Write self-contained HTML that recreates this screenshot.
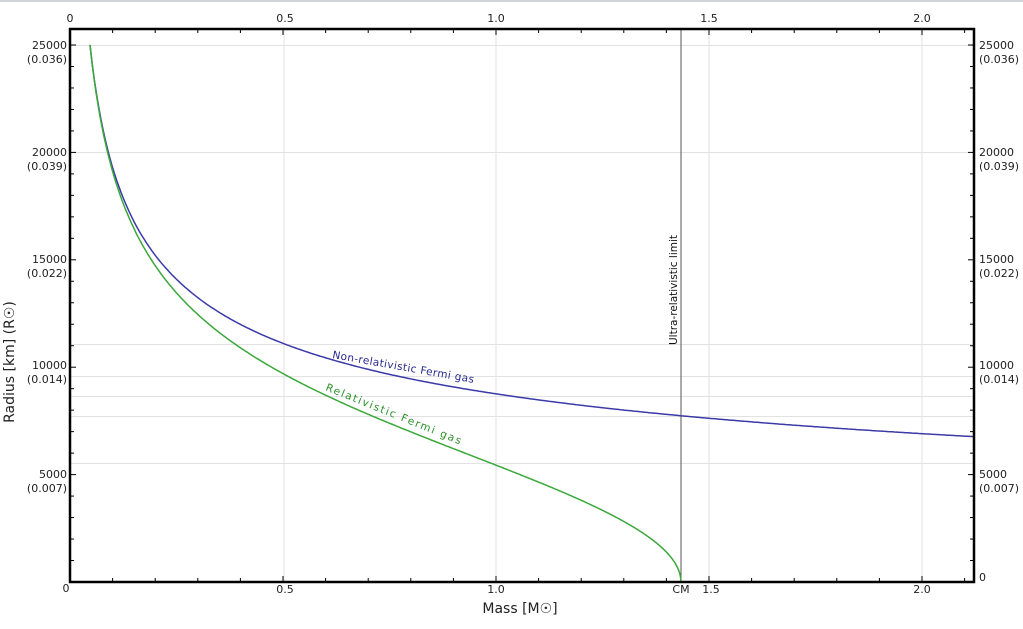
<!DOCTYPE html>
<html><head><style>
html,body{margin:0;padding:0;background:#fff;}
svg{display:block;font-family:"DejaVu Sans","Liberation Sans",sans-serif;}
</style></head><body>
<svg id="s" width="1023" height="629" xmlns="http://www.w3.org/2000/svg">
<rect x="0" y="0" width="1023" height="2" fill="#d0d4d8"/>
<g stroke="#e2e2e2" stroke-width="1">
<line x1="284" y1="29" x2="284" y2="582"/>
<line x1="496" y1="29" x2="496" y2="582"/>
<line x1="709" y1="29" x2="709" y2="582"/>
<line x1="922" y1="29" x2="922" y2="582"/>
<line x1="70" y1="45.5" x2="974" y2="45.5"/>
<line x1="70" y1="152.5" x2="974" y2="152.5"/>
<line x1="70" y1="344.5" x2="974" y2="344.5"/>
<line x1="70" y1="376.5" x2="974" y2="376.5"/>
<line x1="70" y1="396.5" x2="974" y2="396.5"/>
<line x1="70" y1="416.5" x2="974" y2="416.5"/>
<line x1="70" y1="463.5" x2="974" y2="463.5"/>
</g>
<line x1="681" y1="29" x2="681" y2="582" stroke="#555" stroke-width="1"/>
<path id="blue" fill="none" stroke="#3a3aa8" stroke-width="1.5"/>
<path id="green" fill="none" stroke="#3aa83a" stroke-width="1.5"/>
<g id="ticks" stroke="#000" stroke-width="1"></g>
<rect x="70" y="29" width="904" height="553" fill="none" stroke="#000" stroke-width="2.5"/>
<g font-size="11" fill="#222" text-anchor="middle">
<text x="70" y="22">0</text><text x="285" y="22">0.5</text><text x="496" y="22">1.0</text><text x="709" y="22">1.5</text><text x="922" y="22">2.0</text>
<text x="66" y="592">0</text><text x="285" y="593">0.5</text><text x="496" y="593">1.0</text><text x="711" y="593">1.5</text><text x="922" y="593">2.0</text><text x="681" y="593">CM</text>
</g>
<g font-size="11" fill="#222" text-anchor="end">
<text x="67" y="49">25000</text><text x="67" y="63">(0.036)</text>
<text x="67" y="156">20000</text><text x="67" y="170">(0.039)</text>
<text x="67" y="263">15000</text><text x="67" y="277">(0.022)</text>
<text x="67" y="369">10000</text><text x="67" y="383">(0.014)</text>
<text x="67" y="478">5000</text><text x="67" y="492">(0.007)</text>
</g>
<g font-size="11" fill="#222" text-anchor="start">
<text x="979" y="49">25000</text><text x="979" y="63">(0.036)</text>
<text x="979" y="156">20000</text><text x="979" y="170">(0.039)</text>
<text x="979" y="263">15000</text><text x="979" y="277">(0.022)</text>
<text x="979" y="369">10000</text><text x="979" y="383">(0.014)</text>
<text x="979" y="478">5000</text><text x="979" y="492">(0.007)</text>
<text x="979" y="581">0</text>
</g>
<text x="520" y="613" font-size="14" fill="#222" text-anchor="middle">Mass [M☉]</text>
<text transform="translate(14,362) rotate(-90)" font-size="14" fill="#222" text-anchor="middle">Radius [km] (R☉)</text>
<text transform="translate(677,290) rotate(-90)" font-size="10.5" fill="#111" text-anchor="middle">Ultra-relativistic limit</text>
<text transform="translate(332,358) rotate(10)" font-size="10.5" fill="#2a2a90" letter-spacing="0.4">Non-relativistic Fermi gas</text>
<text transform="translate(325,390) rotate(22)" font-size="10.5" fill="#2a902a" letter-spacing="1.6">Relativistic Fermi gas</text>
</svg>
<script>
var X=function(m){return 70+m*426;},Y=function(r){return 582-r*0.02148;};
var m0=0.047,mc=1.434,b="",g="";
for(var i=0;i<=400;i++){var m=m0+(2.122-m0)*i/400;var r=25000*Math.pow(m0/m,0.343);
b+=(i?"L":"M")+X(m).toFixed(1)+","+Y(r).toFixed(1);}
for(var i=0;i<=600;i++){var t=i/600;var m=m0+(mc-m0)*(1-Math.pow(1-t,2));var r=25000*Math.pow(m0/m,0.343);
var f=1-Math.pow(m/mc,4/3);if(f<0)f=0;r*=Math.sqrt(f)/Math.sqrt(1-Math.pow(m0/mc,4/3));
g+=(i?"L":"M")+X(m).toFixed(1)+","+Y(r).toFixed(1);}
document.getElementById("blue").setAttribute("d",b);
document.getElementById("green").setAttribute("d",g);
var tk="";
for(var k=1;k<=21;k++){var x=X(k*0.1);var L=(k%5==0)?6:4;
tk+='<line x1="'+x+'" y1="582" x2="'+x+'" y2="'+(582-L)+'"/><line x1="'+x+'" y1="29" x2="'+x+'" y2="'+(29+L)+'"/>';}
for(var k=1;k<=25;k++){var y=Y(k*1000);var L=(k%5==0)?6:4;
tk+='<line x1="70" y1="'+y+'" x2="'+(70+L)+'" y2="'+y+'"/><line x1="974" y1="'+y+'" x2="'+(974-L)+'" y2="'+y+'"/>';}
document.getElementById("ticks").innerHTML=tk;
</script>
</body></html>
